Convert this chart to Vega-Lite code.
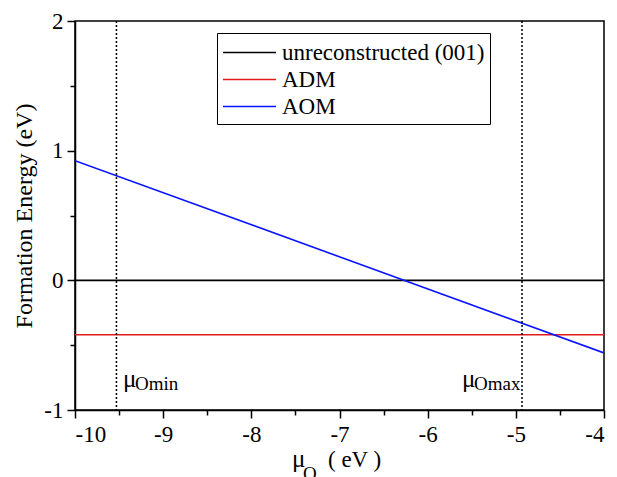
{
  "$schema": "https://vega.github.io/schema/vega-lite/v6.json",
  "width": 529,
  "height": 389,
  "autosize": "none",
  "padding": {"left": 75, "top": 21, "right": 13, "bottom": 67},
  "background": "white",
  "config": {
    "font": "Liberation Serif",
    "view": {"stroke": "black", "strokeWidth": 1.5},
    "axis": {"grid": false, "domainColor": "black", "domainWidth": 1.5, "tickColor": "black", "tickWidth": 1.5, "labelColor": "black", "titleColor": "black", "labelFont": "Liberation Serif", "titleFont": "Liberation Serif", "labelFontSize": 23, "titleFontSize": 24, "titleFontWeight": "normal"}
  },
  "datasets": {
    "lines": [
      {"series": "unreconstructed (001)", "mu": -10, "energy": 0},
      {"series": "unreconstructed (001)", "mu": -4, "energy": 0},
      {"series": "ADM", "mu": -10, "energy": -0.42},
      {"series": "ADM", "mu": -4, "energy": -0.42},
      {"series": "AOM", "mu": -10, "energy": 0.923},
      {"series": "AOM", "mu": -4, "energy": -0.56}
    ],
    "limits": [{"mu": -9.53}, {"mu": -4.93}],
    "mu_labels": [
      {"mu": -9.456, "energy": -0.823, "t": "μ", "s": "Omin"},
      {"mu": -5.611, "energy": -0.823, "t": "μ", "s": "Omax"}
    ],
    "xtitle": [{"mu": -7.539, "energy": -1}]
  },
  "layer": [
    {
      "data": {"name": "lines"},
      "mark": {"type": "line", "strokeWidth": 1.6, "clip": true},
      "encoding": {
        "x": {"field": "mu", "type": "quantitative", "scale": {"domain": [-10, -4], "nice": false, "zero": false},
          "axis": {"title": null, "values": [-10, -9.5, -9, -8.5, -8, -7.5, -7, -6.5, -6, -5.5, -5, -4.5, -4],
            "labelFont": "Liberation Serif",
            "labelExpr": "datum.value % 1 === 0 ? '' + datum.value : ''",
            "tickSize": {"condition": {"test": "datum.value % 1 === 0", "value": 8}, "value": 5},
            "labelPadding": 5}},
        "y": {"field": "energy", "type": "quantitative", "scale": {"domain": [-1, 2], "nice": false, "zero": false},
          "axis": {"title": "Formation Energy (eV)", "values": [-1, -0.5, 0, 0.5, 1, 1.5, 2],
            "labelFont": "Liberation Serif",
            "labelExpr": "datum.value % 1 === 0 ? '' + datum.value : ''",
            "tickSize": {"condition": {"test": "datum.value % 1 === 0", "value": 8}, "value": 5},
            "labelPadding": 4, "titlePadding": 7}},
        "color": {"field": "series", "type": "nominal",
          "scale": {"domain": ["unreconstructed (001)", "ADM", "AOM"], "range": ["#000000", "#e31a1c", "#0a14ff"]},
          "legend": {"title": null, "orient": "none", "legendX": 142, "legendY": 12,
            "symbolType": "M-1,0H2.93", "symbolSize": 729, "symbolStrokeWidth": 1.6,
            "labelFont": "Liberation Serif", "labelFontSize": 23, "labelColor": "black", "labelLimit": 400,
            "rowPadding": 0, "padding": 5, "strokeColor": "black", "fillColor": "white", "labelOffset": 31}}
      }
    },
    {
      "data": {"name": "limits"},
      "mark": {"type": "rule", "color": "black", "strokeDash": [2, 2], "strokeWidth": 1.5},
      "encoding": {"x": {"field": "mu", "type": "quantitative"}}
    },
    {
      "data": {"name": "mu_labels"},
      "mark": {"type": "text", "align": "left", "baseline": "alphabetic", "fontSize": 25, "font": "Liberation Serif", "color": "black"},
      "encoding": {"x": {"field": "mu", "type": "quantitative"}, "y": {"field": "energy", "type": "quantitative"}, "text": {"field": "t"}}
    },
    {
      "data": {"name": "mu_labels"},
      "mark": {"type": "text", "align": "left", "baseline": "alphabetic", "fontSize": 19, "font": "Liberation Serif", "color": "black", "dx": 12, "dy": 3},
      "encoding": {"x": {"field": "mu", "type": "quantitative"}, "y": {"field": "energy", "type": "quantitative"}, "text": {"field": "s"}}
    },
    {
      "data": {"name": "xtitle"},
      "mark": {"type": "text", "align": "left", "baseline": "alphabetic", "fontSize": 25, "font": "Liberation Serif", "color": "black", "dy": 57},
      "encoding": {"x": {"field": "mu", "type": "quantitative"}, "y": {"field": "energy", "type": "quantitative"}, "text": {"value": "μ"}}
    },
    {
      "data": {"name": "xtitle"},
      "mark": {"type": "text", "align": "left", "baseline": "alphabetic", "fontSize": 19, "font": "Liberation Serif", "color": "black", "dy": 70, "dx": 11},
      "encoding": {"x": {"field": "mu", "type": "quantitative"}, "y": {"field": "energy", "type": "quantitative"}, "text": {"value": "O"}}
    },
    {
      "data": {"name": "xtitle"},
      "mark": {"type": "text", "align": "left", "baseline": "alphabetic", "fontSize": 23, "font": "Liberation Serif", "color": "black", "dy": 57, "dx": 36},
      "encoding": {"x": {"field": "mu", "type": "quantitative"}, "y": {"field": "energy", "type": "quantitative"}, "text": {"value": "( eV )"}}
    }
  ]
}
